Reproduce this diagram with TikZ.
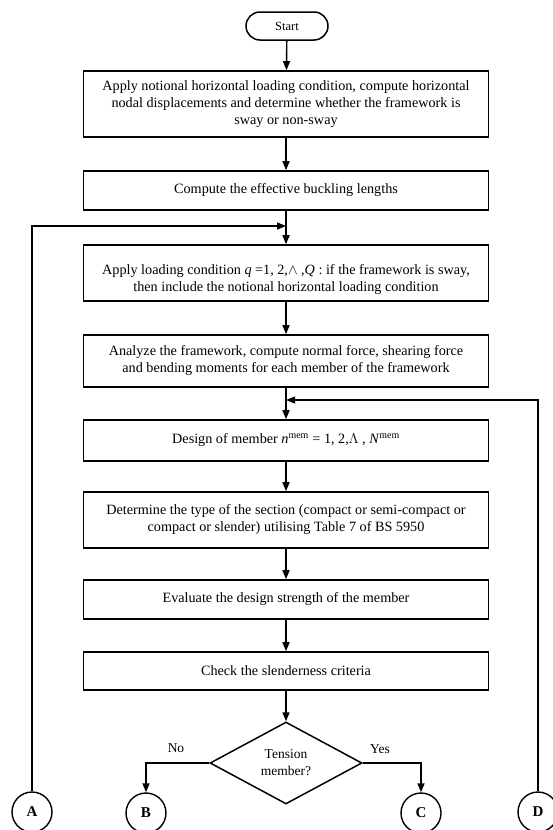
\documentclass[tikz,border=0pt]{standalone}
\usepackage{fontspec}
\setmainfont{Liberation Serif}
\usetikzlibrary{shapes.geometric,arrows.meta}
\begin{document}
\begin{tikzpicture}[x=1pt,y=-1pt,
  box/.style={draw,line width=1.6pt,minimum width=405pt,align=center,inner sep=2pt,font=\fontsize{14.2}{17}\selectfont},
  arr/.style={line width=1.4pt,-{Triangle[length=9pt,width=7pt]}},
  conn/.style={draw,circle,line width=1.4pt,minimum size=40pt,inner sep=0pt,font=\bfseries\fontsize{15}{17}\selectfont},
  lbl/.style={font=\fontsize{13.5}{15}\selectfont,inner sep=1pt}
]
\useasboundingbox (0,0) rectangle (552,830);
\node[draw,line width=1.5pt,rounded corners=14pt,minimum width=82pt,minimum height=28pt,inner sep=0pt,font=\fontsize{12.5}{14}\selectfont] (start) at (287,26) {Start};
\node[box,minimum height=66pt] (b1) at (286,104) {Apply notional horizontal loading condition, compute horizontal\\nodal displacements and determine whether the framework is\\sway or non-sway};
\node[box,minimum height=39pt] (b2) at (286,190.5) {Compute the effective buckling lengths};
\node[box,minimum height=56pt] (b3) at (286,273) {\rule{0pt}{24pt}Apply loading condition \textit{q} =1, 2,$\wedge$ ,\textit{Q} : if the framework is sway,\\then include the notional horizontal loading condition};
\node[box,minimum height=52pt] (b4) at (286,361) {Analyze the framework, compute normal force, shearing force\\and bending moments for each member of the framework};
\node[box,minimum height=41pt] (b5) at (286,440.5) {Design of member \textit{n}\textsuperscript{mem} = 1, 2,$\Lambda$ , \textit{N}\textsuperscript{mem}};
\node[box,minimum height=56pt] (b6) at (286,520) {Determine the type of the section (compact or semi-compact or\\compact or slender) utilising Table 7 of BS 5950};
\node[box,minimum height=39pt] (b7) at (286,599.5) {Evaluate the design strength of the member};
\node[box,minimum height=38pt] (b8) at (286,671) {Check the slenderness criteria};
\node[draw,diamond,line width=1.5pt,minimum width=152pt,minimum height=82pt,inner sep=0pt,align=center,font=\fontsize{13.5}{17}\selectfont] (dia) at (286,763) {Tension\\member?};
\node[conn] (A) at (32,812) {A};
\node[conn] (B) at (146,813) {B};
\node[conn] (C) at (421,813) {C};
\node[conn] (D) at (538,812) {D};
\node[lbl] (no) at (176,748) {No};
\node[lbl] (yes) at (380,749) {Yes};
\coordinate (jA) at (286,226);
\coordinate (jD) at (286,400);
\draw[arr] (start) -- (b1);
\draw[arr] (b1) -- (b2);
\draw[arr] (b2) -- (b3);
\draw[arr] (b3) -- (b4);
\draw[arr] (b4) -- (b5);
\draw[arr] (b5) -- (b6);
\draw[arr] (b6) -- (b7);
\draw[arr] (b7) -- (b8);
\draw[arr] (b8) -- (dia);
\draw[arr] (A.north) |- (jA);
\draw[arr] (D.north) |- (jD);
\draw[arr] (dia.west) -| (B.north);
\draw[arr] (dia.east) -| (C.north);
\end{tikzpicture}
\end{document}
